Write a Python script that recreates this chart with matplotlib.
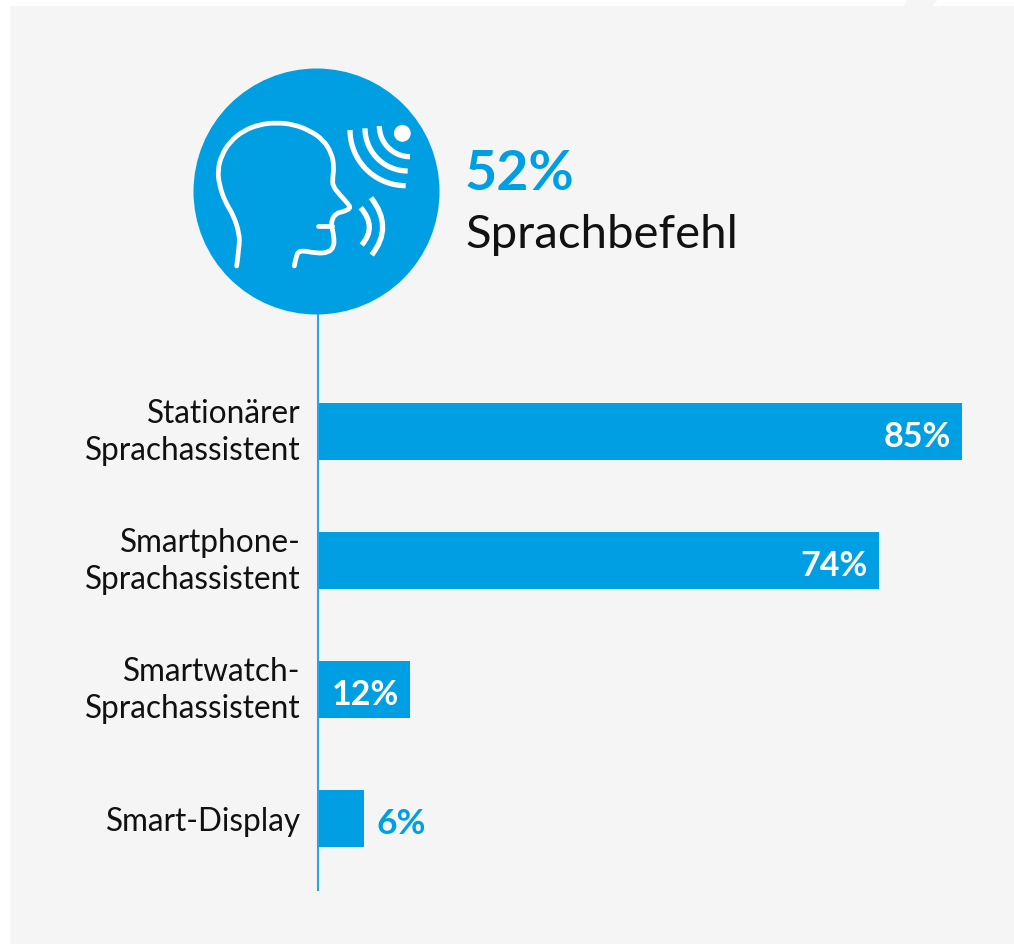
import numpy as np
import matplotlib
matplotlib.use("Agg")
import matplotlib.pyplot as plt
from matplotlib.path import Path
from matplotlib.patches import Circle, PathPatch, Polygon, Rectangle

categories = ["Stationärer\nSprachassistent", "Smartphone-\nSprachassistent",
              "Smartwatch-\nSprachassistent", "Smart-Display"]
values = [85, 74, 12, 6]
headline_value = "52%"
headline_label = "Sprachbefehl"

BLUE = "#009fe3"
LINE = "#2ea3dc"
PANEL = "#f5f5f5"
W, H = 1014, 945

plt.rcParams["font.family"] = ["Lato", "DejaVu Sans"]

# icon outline, in zoomed crop coordinates (3x, offset 180/60)
head_x = [170, 178, 178, 160, 135, 118, 113, 125, 150, 190, 240, 290, 340, 390, 430, 455, 462, 458,
          458, 480, 505, 512, 490, 468, 455, 455, 462, 462, 445, 410, 358, 348, 343]
head_y = [618, 560, 520, 465, 425, 375, 330, 285, 245, 212, 193, 188, 193, 212, 240, 280, 320, 355,
          378, 405, 432, 445, 455, 460, 480, 500, 530, 560, 578, 580, 570, 590, 618]


def crop(x, y):
    return 180 + np.asarray(x) / 3, 60 + np.asarray(y) / 3


def smooth_path(xs, ys):
    pts = np.column_stack([xs, ys])
    verts = [pts[0]]
    codes = [Path.MOVETO]
    for i in range(1, len(pts) - 1):
        end = pts[i + 1] if i == len(pts) - 2 else (pts[i] + pts[i + 1]) / 2
        verts += [pts[i], end]
        codes += [Path.CURVE3, Path.CURVE3]
    return Path(verts, codes)


def quad(start, bulge, end):
    start, bulge, end = map(np.array, (start, bulge, end))
    ctrl = 2 * bulge - (start + end) / 2
    return Path([start, ctrl, end], [Path.MOVETO, Path.CURVE3, Path.CURVE3])


fig = plt.figure(figsize=(W / 100, H / 100), dpi=100, facecolor="white")

# background layer in pixel coordinates
bg = fig.add_axes([0, 0, 1, 1])
bg.set_xlim(0, W)
bg.set_ylim(H - 1, -1)
bg.axis("off")
bg.add_patch(Rectangle((10, 6), W - 10, H - 6, fc=PANEL, ec="none"))
bg.add_patch(Polygon([(908, -1), (938, -1), (933, 6), (904, 6)], fc=PANEL, ec="none"))
bg.add_patch(Circle((316.5, 191.5), 123, fc=BLUE, ec="none"))

hx, hy = crop(head_x, head_y)
icon = dict(fc="none", ec="white", lw=3.4, capstyle="round", joinstyle="round")
bg.add_patch(PathPatch(smooth_path(hx, hy), **icon))
mx, my = crop([413, 455], [499, 499])
bg.plot(mx, my, color="white", lw=3.4, solid_capstyle="round")

# sound waves
wave = dict(fc="none", ec="white", lw=3.8, capstyle="butt")
for cx, cy, r in [(690, 198, 92), (683, 205, 128), (677, 210, 167)]:
    t = np.linspace(np.pi / 2, np.pi, 40)
    ax_, ay_ = crop(cx + r * np.cos(t), cy + r * np.sin(t))
    bg.plot(ax_, ay_, color="white", lw=3.8, solid_capstyle="butt")
dx, dy = crop([667], [220])
bg.add_patch(Circle((dx[0], dy[0]), 8.4, fc="white", ec="none"))
for s, b, e in [((542, 443), (568, 500), (545, 555)), ((573, 413), (608, 500), (575, 585))]:
    pts = [tuple(np.ravel(crop(p[0], p[1]))) for p in (s, b, e)]
    bg.add_patch(PathPatch(quad(*pts), **wave))

bg.text(465, 189, headline_value, color=BLUE, fontsize=40, fontweight="bold", va="baseline", ha="left")
bg.text(465, 247, headline_label, color="#111111", fontsize=34, va="baseline", ha="left")

# bar chart
ax = fig.add_axes([318 / W, 1 - 891 / H, (962 - 318) / W, (890 - 315) / H])
ax.patch.set_alpha(0)
pos = np.arange(len(values))
ax.barh(pos, values, height=57 / 129, color=BLUE, clip_on=False)
ax.set_xlim(-0.13, 85)
ax.set_ylim((890 - 431.5) / 129, (315 - 431.5) / 129)
ax.set_yticks(pos, categories, fontsize=22.7, color="#111111", linespacing=1.3, ha="right")
for label, name in zip(ax.get_yticklabels(), categories):
    if "\n" in name:
        label.set_va("center")
ax.tick_params(axis="y", length=0, pad=12.5)
ax.set_xticks([])
for side in ["top", "right", "bottom"]:
    ax.spines[side].set_visible(False)
ax.spines["left"].set_color(LINE)
ax.spines["left"].set_linewidth(1.5)

for i, v in enumerate(values):
    if v >= 10:
        ax.annotate(f"{v}%", (v, i), xytext=(-8, -3), textcoords="offset points", color="white",
                    fontsize=24.5, fontweight="bold", ha="right", va="center")
    else:
        ax.annotate(f"{v}%", (v, i), xytext=(9, -3), textcoords="offset points", color=BLUE,
                    fontsize=25.5, fontweight="bold", ha="left", va="center")

fig.savefig("out.png", dpi=100)
